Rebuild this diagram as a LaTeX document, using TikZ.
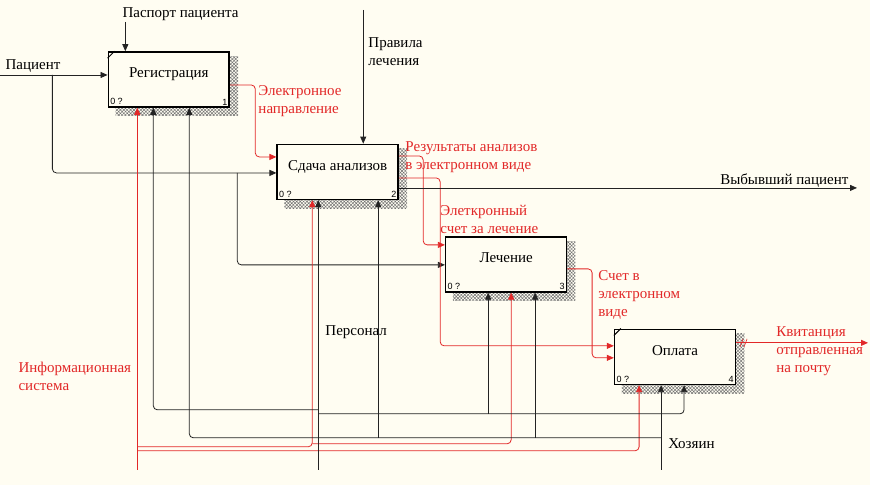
\documentclass[tikz,border=0pt]{standalone}
\usepackage{fontspec}
\setmainfont{Liberation Serif}
\newfontfamily\numfont{Liberation Sans}
\usepackage{tikz}
\usepackage{xcolor}
\usetikzlibrary{arrows.meta, patterns.meta, backgrounds}
\definecolor{idefred}{RGB}{226, 40, 40}
\definecolor{idefbg}{RGB}{255, 253, 242}
\definecolor{idefline}{RGB}{35, 35, 35}

\begin{document}
\begin{tikzpicture}[x=1pt,y=-1pt,
    box/.style={draw,line width=1.6pt,fill=idefbg,
      minimum width=121pt,minimum height=55pt,inner sep=0pt,
      font=\fontsize{15}{18}\selectfont,text height=9pt,text depth=12pt},
    conn/.style={idefline,line width=0.8pt,rounded corners=4pt,
      -{Triangle[length=7pt,width=6pt]}},
    rconn/.style={conn,idefred},
    lbl/.style={font=\fontsize{15}{18}\selectfont,align=left,anchor=west,inner sep=0pt},
    rlbl/.style={lbl,text=idefred},
    cornernum/.style={font=\numfont\fontsize{9}{10}\selectfont,inner sep=2.5pt},
    boxshadow/.style={pattern={Hatch[angle=45,distance=2.4pt,line width=0.5pt]},
      pattern color=black!55}]
        % activity boxes
        \node[box] (reg) at (168.5,79.5) {Регистрация};
        \node[box] (ana) at (337.5,172) {Сдача анализов};
        \node[box] (lech) at (506,264.5) {Лечение};
        \node[box] (opl) at (675,357) {Оплата};
        \foreach \b/\k in {reg/1,ana/2,lech/3,opl/4} {
          \node[cornernum,anchor=south west] (\b-q) at (\b.south west) {0 ?};
          \node[cornernum,anchor=south east] (\b-k) at (\b.south east) {\k};
        }
        \foreach \b in {reg,opl}
          \draw[line width=0.9pt] ([yshift=-7pt]\b.north west) -- ([xshift=7pt]\b.north west);
        \begin{scope}[on background layer]
          \fill[idefbg] (0,0) rectangle (870,485);
          \foreach \b in {reg,ana,lech,opl}
            \fill[boxshadow] ([shift={(8pt,-5pt)}]\b.north west) rectangle ([shift={(8pt,-8pt)}]\b.south east);
        \end{scope}

        % labels
        \node[lbl] (pasplbl) at (122,14) {Паспорт пациента};
        \node[lbl] (paclbl) at (5,66) {Пациент};
        \node[lbl] (pravlbl) at (368,51.5) {Правила\\лечения};
        \node[rlbl] (naprlbl) at (258,101.5) {Электронное\\направление};
        \node[rlbl] (reslbl) at (405,157) {Результаты анализов\\в электронном виде};
        \node[rlbl] (schetlbl) at (440,219.5) {Элеткронный\\счет за лечение};
        \node[rlbl] (elschlbl) at (598,295.5) {Счет в\\электронном\\виде};
        \node[lbl] (vyblbl) at (720,181) {Выбывший пациент};
        \node[rlbl] (kvitlbl) at (776,351) {Квитанция\\отправленная\\на почту};
        \node[lbl] (perslbl) at (325,332) {Персонал};
        \node[lbl] (hozlbl) at (668,444) {Хозяин};
        \node[rlbl] (infolbl) at (18,377) {Информационная\\система};

        % free ends
        \coordinate (pacin) at (0,75);
        \coordinate (paspin) at (125,22);
        \coordinate (pravin) at (363,10);
        \coordinate (vyb) at (857,188);
        \coordinate (kvit) at (868,343);
        \coordinate (info) at (137,470);
        \coordinate (pers) at (318,470);
        \coordinate (hoz) at (661,470);

        % inputs and controls
        \draw[conn] (pacin) -- (reg.west |- pacin);
        \draw[conn] (52,75) |- (ana.west |- 0,173);
        \draw[conn] (237,173) |- (lech.west |- 0,265);
        \draw[conn] (paspin) -- (paspin |- reg.north);
        \draw[conn] (pravin) -- (pravin |- ana.north);

        % outputs
        \draw[rconn] (reg.east |- 0,85) -| (255,157) -- (ana.west |- 0,157);
        \draw[rconn] (ana.east |- 0,156) -| (423,245) -- (lech.west |- 0,245);
        \draw[rconn] (ana.east |- 0,178) -| (440,346) -- (opl.west |- 0,346);
        \draw[conn] (ana.east |- 0,188) -- (vyb);
        \draw[rconn] (lech.east |- 0,269) -| (592,358) -- (opl.west |- 0,358);
        \draw[rconn] (opl.east |- 0,343) -- (kvit);
        \foreach \tx in {741,745}
          \draw[idefred,line width=0.6pt] (\tx+2,339) -- (\tx-1,347);

        % mechanisms
        \draw[rconn] (info) -- (info |- reg.south);
        \draw[rconn] (137,447) -| (312,0 |- ana.south);
        \draw[rconn] (312,444) -| (511,0 |- lech.south);
        \draw[rconn] (137,451) -| (639,0 |- opl.south);
        \draw[conn] (pers) -- (pers |- ana.south);
        \draw[conn] (318,410) -| (153,0 |- reg.south);
        \draw[conn] (318,414) -| (684,0 |- opl.south);
        \draw[conn] (488,414) -- (488,0 |- lech.south);
        \draw[conn] (hoz) -- (hoz |- opl.south);
        \draw[conn] (661,438) -| (189,0 |- reg.south);
        \draw[conn] (378,438) -- (378,0 |- ana.south);
        \draw[conn] (535,438) -- (535,0 |- lech.south);
      \end{tikzpicture}
\end{document}
